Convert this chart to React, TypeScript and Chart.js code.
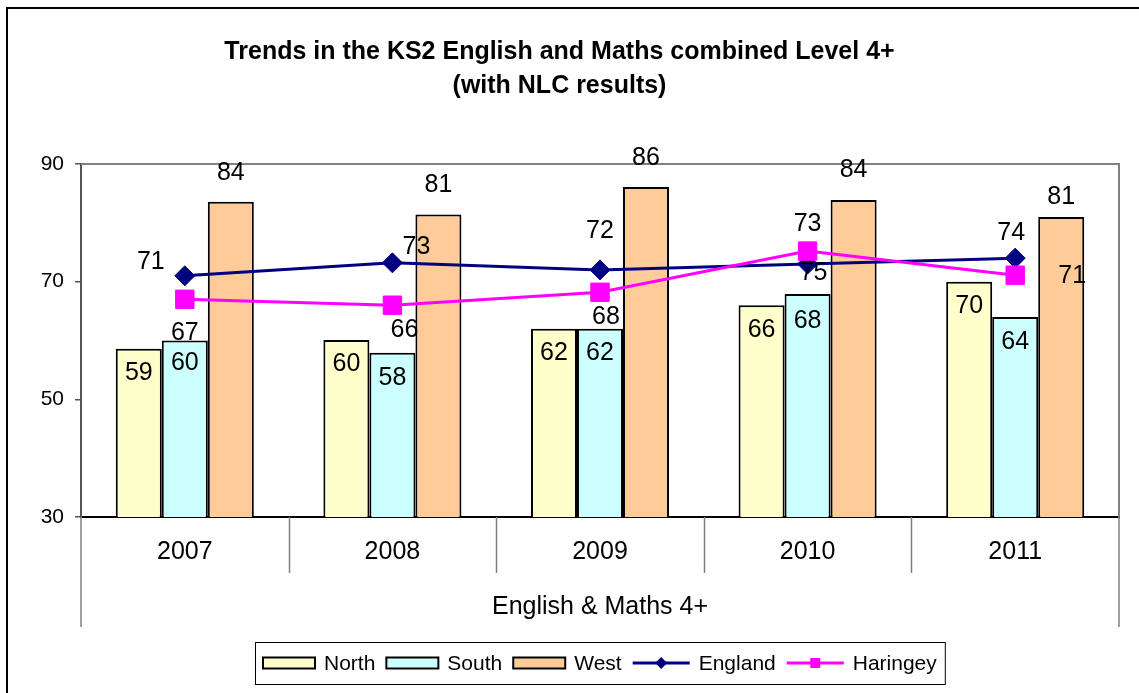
import React, { useEffect, useRef } from "react";
import { Chart, registerables } from "chart.js";

Chart.register(...registerables);

const FONT = "'Liberation Sans', Arial, sans-serif";

const categories = ["2007", "2008", "2009", "2010", "2011"];
const northValues = [58.6, 60.1, 62, 66, 70];
const southValues = [60, 57.9, 62, 67.9, 64];
const westValues = [83.6, 81.4, 86.1, 83.9, 81];
const englandValues = [71, 73.2, 72, 73, 74];
const haringeyValues = [67, 66, 68.2, 75.2, 71.1];
const yTicks = { min: 30, max: 90, step: 20 };

const titleLines = ["Trends in the KS2 English and Maths combined Level 4+", "(with NLC results)"];
const axisTitle = "English & Maths 4+";

// label placement offsets (px, relative to the mark) to mimic the manually placed labels
const labelOffsets: Record<string, number[][]> = {
  North: [[0, 24], [0, 24], [0, 24], [0, 25], [0, 24]],
  South: [[0, 23], [0, 25], [0, 24], [0, 27], [0, 25]],
  West: [[0, -29], [0, -29], [0, -29], [0, -30], [0, -20]],
  England: [[-34, -14], [24, -16], [0, -39], [0, -40], [-4, -25]],
  Haringey: [[0, 34], [12, 25], [6, 25], [6, 22], [57, 1]],
};

const colors = {
  North: "#FFFFCC",
  South: "#CCFFFF",
  West: "#FFCC99",
  England: "#000080",
  Haringey: "#FF00FF",
};

const decorPlugin = {
  id: "decor",
  beforeDatasetsDraw(chart: any) {
    const { ctx, chartArea } = chart;
    const { left, right, top, bottom } = chartArea;
    const x = chart.scales.x;
    ctx.save();
    ctx.strokeStyle = "#808080";
    ctx.lineWidth = 2;
    ctx.beginPath();
    ctx.moveTo(left, top);
    ctx.lineTo(right, top);
    ctx.lineTo(right, bottom);
    ctx.stroke();
    ctx.lineWidth = 1.5;
    ctx.beginPath();
    for (let i = 0; i < categories.length - 1; i++) {
      const bx = Math.round((x.getPixelForValue(i) + x.getPixelForValue(i + 1)) / 2) + 0.5;
      ctx.moveTo(bx, bottom);
      ctx.lineTo(bx, bottom + 56);
    }
    ctx.moveTo(left, bottom);
    ctx.lineTo(left, x.bottom);
    ctx.moveTo(right, bottom);
    ctx.lineTo(right, x.bottom);
    ctx.stroke();
    ctx.restore();
  },
  afterDatasetsDraw(chart: any) {
    const { ctx } = chart;
    ctx.save();
    ctx.font = `25px ${FONT}`;
    ctx.fillStyle = "#000";
    ctx.textAlign = "center";
    ctx.textBaseline = "middle";
    chart.data.datasets.forEach((ds: any, di: number) => {
      const meta = chart.getDatasetMeta(di);
      const offs = labelOffsets[ds.label] || [];
      meta.data.forEach((el: any, i: number) => {
        const v = ds.data[i];
        const o = offs[i] || [0, 0];
        ctx.fillText(String(Math.round(v)), el.x + o[0], el.y + o[1]);
      });
    });
    ctx.restore();
  },
  afterDraw(chart: any) {
    const { ctx, chartArea } = chart;
    ctx.save();
    ctx.strokeStyle = "#000";
    ctx.lineWidth = 2;
    ctx.strokeRect(7, 8, chart.width + 20, chart.height + 20);

    ctx.font = `21px ${FONT}`;
    ctx.textBaseline = "middle";
    ctx.textAlign = "left";
    const items = chart.data.datasets.map((ds: any) => ({
      label: ds.label,
      type: ds.type || "bar",
      w: ds.type === "line" ? 57 : 52,
    }));
    const gapSym = 9;
    const gapItem = 11;
    const padX = 8;
    let total = padX * 2;
    items.forEach((it: any, i: number) => {
      it.tw = ctx.measureText(it.label).width;
      total += it.w + gapSym + it.tw + (i < items.length - 1 ? gapItem : 0);
    });
    const boxH = 42;
    const boxTop = chart.scales.x.bottom + 15;
    const cx = (chartArea.left + chartArea.right) / 2;
    const boxLeft = Math.round(cx - total / 2);
    ctx.fillStyle = "#fff";
    ctx.fillRect(boxLeft, boxTop, total, boxH);
    ctx.strokeStyle = "#000";
    ctx.lineWidth = 1;
    ctx.strokeRect(boxLeft + 0.5, boxTop + 0.5, total, boxH);
    const cy = boxTop + boxH / 2;
    let px = boxLeft + padX;
    items.forEach((it: any) => {
      const col = (colors as any)[it.label];
      if (it.type === "line") {
        ctx.strokeStyle = col;
        ctx.lineWidth = 3;
        ctx.beginPath();
        ctx.moveTo(px, cy);
        ctx.lineTo(px + it.w, cy);
        ctx.stroke();
        ctx.fillStyle = col;
        const mx = px + it.w / 2;
        ctx.beginPath();
        if (it.label === "England") {
          ctx.moveTo(mx - 6, cy);
          ctx.lineTo(mx, cy - 6);
          ctx.lineTo(mx + 6, cy);
          ctx.lineTo(mx, cy + 6);
          ctx.closePath();
        } else {
          ctx.rect(mx - 5, cy - 5, 10, 10);
        }
        ctx.fill();
      } else {
        ctx.fillStyle = col;
        ctx.fillRect(px, cy - 5.5, it.w, 11);
        ctx.strokeStyle = "#000";
        ctx.lineWidth = 2;
        ctx.strokeRect(px, cy - 5.5, it.w, 11);
      }
      px += it.w + gapSym;
      ctx.fillStyle = "#000";
      ctx.fillText(it.label, px, cy + 1);
      px += it.tw + gapItem;
    });
    ctx.restore();
  },
};

export default function App() {
  const ref = useRef<HTMLCanvasElement | null>(null);

  useEffect(() => {
    document.body.style.margin = "0";
    const canvas = ref.current;
    if (!canvas) return;
    const barCommon = {
      type: "bar" as const,
      borderColor: "#000",
      borderWidth: 2,
      categoryPercentage: 0.665,
      barPercentage: 1,
      order: 2,
    };
    const chart = new Chart(canvas, {
      type: "bar",
      data: {
        labels: categories,
        datasets: [
          { ...barCommon, label: "North", data: northValues, backgroundColor: colors.North },
          { ...barCommon, label: "South", data: southValues, backgroundColor: colors.South },
          { ...barCommon, label: "West", data: westValues, backgroundColor: colors.West },
          {
            type: "line" as const,
            label: "England",
            data: englandValues,
            borderColor: colors.England,
            backgroundColor: colors.England,
            borderWidth: 3,
            pointStyle: "rectRot",
            pointRadius: 10,
            pointBackgroundColor: colors.England,
            pointBorderColor: colors.England,
            pointBorderWidth: 1,
            tension: 0,
            order: 1,
          },
          {
            type: "line" as const,
            label: "Haringey",
            data: haringeyValues,
            borderColor: colors.Haringey,
            backgroundColor: colors.Haringey,
            borderWidth: 3,
            pointStyle: "rect",
            pointRadius: 13,
            pointBackgroundColor: colors.Haringey,
            pointBorderColor: colors.Haringey,
            pointBorderWidth: 1,
            tension: 0,
            order: 0,
          },
        ] as any,
      },
      options: {
        responsive: false,
        animation: false,
        layout: { padding: { left: 0, right: 20, top: 0, bottom: 66 } },
        plugins: {
          legend: { display: false },
          tooltip: { enabled: false },
          title: {
            display: true,
            text: titleLines,
            color: "#000",
            font: { family: FONT, size: 25, weight: "bold", lineHeight: 1.36 },
            padding: { top: 35, bottom: 61 },
          },
        },
        scales: {
          x: {
            type: "category",
            offset: true,
            grid: { display: false, drawTicks: false },
            border: { display: true, color: "#000", width: 2 },
            ticks: {
              color: "#000",
              font: { family: FONT, size: 25, lineHeight: 1.2 },
              padding: 20,
              maxRotation: 0,
              autoSkip: false,
            },
            title: {
              display: true,
              text: axisTitle,
              color: "#000",
              font: { family: FONT, size: 25, lineHeight: 1.2 },
              padding: { top: 0, bottom: 5 },
            },
            afterFit: (s: any) => {
              s.height = 110;
            },
          },
          y: {
            min: yTicks.min,
            max: yTicks.max,
            ticks: {
              stepSize: yTicks.step,
              color: "#000",
              font: { family: FONT, size: 21 },
              padding: 11,
            },
            grid: {
              drawOnChartArea: false,
              drawTicks: true,
              tickLength: 6,
              color: "#555",
              lineWidth: 1.5,
            },
            border: { display: true, color: "#555", width: 2 },
            afterFit: (s: any) => {
              s.width = 81;
            },
          },
        },
      } as any,
      plugins: [decorPlugin],
    });
    return () => chart.destroy();
  }, []);

  return (
    <div style={{ width: 1139, height: 693, position: "relative", background: "#fff" }}>
      <canvas ref={ref} width={1139} height={693} style={{ display: "block" }} />
    </div>
  );
}
